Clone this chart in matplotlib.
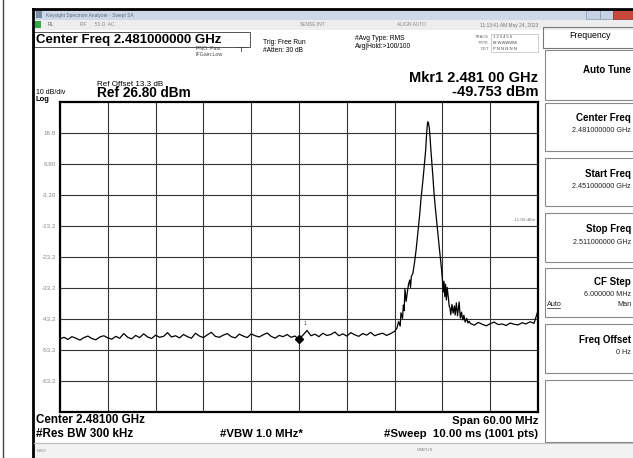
import matplotlib
matplotlib.use("Agg")
import matplotlib.pyplot as plt
import numpy as np
from matplotlib.patches import Rectangle
from matplotlib.lines import Line2D

W, H = 633, 458
plt.rcParams["font.family"] = ["Liberation Sans", "DejaVu Sans"]

# sweep settings
start_mhz, stop_mhz = 2451.0, 2511.0
ref_dbm, db_per_div = 26.80, 10.0

# trace: noise floor left of the carrier (0.5 MHz steps from 2451 MHz)
floor_left_mhz = np.arange(2451.0, 2493.01, 0.5)
floor_left_dbm = [
    -49.6, -49.1, -49.8, -48.9, -49.4, -50.0, -49.2, -48.7, -49.5, -49.9,
    -49.0, -48.6, -49.3, -49.7, -48.8, -49.4, -47.9, -49.1, -49.6, -48.5,
    -49.2, -48.0, -49.0, -49.5, -48.4, -49.1, -48.8, -47.6, -49.0, -48.6,
    -49.3, -48.2, -48.9, -49.4, -47.8, -48.7, -49.2, -48.3, -47.5, -48.8,
    -49.1, -48.4, -47.9, -48.9, -49.3, -48.1, -48.7, -49.2, -48.0, -48.6,
    -49.0, -48.3, -47.7, -48.8, -49.4, -48.5, -48.9, -48.2, -49.1, -48.7,
    -49.75, -48.4, -46.9, -48.6, -48.1, -48.9, -47.8, -48.5, -48.2, -47.4,
    -48.6, -48.0, -48.7, -47.6, -48.3, -48.8, -47.9, -48.4, -47.5, -48.6,
    -48.1, -47.8, -48.5, -47.9, -47.2,
]

# carrier and its skirts
skirt_mhz = [
    2493.3, 2493.5, 2493.7, 2493.8, 2494.0, 2494.1, 2494.2, 2494.3, 2494.45,
    2494.6, 2494.75, 2494.9, 2495.0, 2495.1, 2495.3, 2495.5, 2495.7, 2495.85,
    2496.0, 2496.15, 2496.3, 2496.45, 2496.6, 2496.75, 2496.9, 2497.05,
    2497.15, 2497.25, 2497.35, 2497.45, 2497.55, 2497.65, 2497.8, 2497.95,
    2498.1, 2498.3, 2498.45, 2498.6, 2498.75, 2498.9, 2499.0, 2499.1, 2499.2,
    2499.3, 2499.4, 2499.5, 2499.6, 2499.75, 2499.85, 2499.95, 2500.05,
    2500.2, 2500.35, 2500.5, 2500.6, 2500.75, 2500.9, 2501.0, 2501.1,
    2501.25, 2501.4, 2501.55, 2501.7, 2501.85, 2502.05, 2502.2, 2502.35,
]
skirt_dbm = [
    -46.1, -44.0, -45.5, -41.2, -43.0, -38.7, -40.5, -33.5, -37.5,
    -34.5, -32.0, -30.6, -33.0, -29.5, -28.4, -25.0, -20.9, -17.0,
    -13.4, -9.5, -4.8, -1.0, 2.7, 7.0, 11.3, 17.8,
    20.4, 20.0, 18.5, 15.5, 11.5, 8.1, 3.0, -2.6,
    -7.0, -12.2, -16.0, -19.9, -23.5, -27.4, -30.6, -34.5, -31.0,
    -36.0, -32.0, -37.1, -33.0, -36.4, -39.0, -39.7, -41.8,
    -38.5, -41.3, -39.0, -41.9, -38.0, -42.2, -40.0, -37.7,
    -42.9, -41.0, -43.5, -42.0, -44.2, -43.0, -44.5, -43.9,
]

# noise floor right of the carrier
floor_right_mhz = np.arange(2502.5, 2511.01, 0.5)
floor_right_dbm = [
    -44.6, -45.2, -44.3, -44.9, -45.4, -44.7, -44.2, -45.0, -44.8,
    -45.3, -44.5, -44.9, -45.1, -44.4, -44.8, -44.1, -44.6, -40.5,
]

marker_mhz, marker_dbm = 2481.0, -49.753
display_line_dbm = -11.0
y_tick_labels = ["16.8", "6.80", "-3.20", "-13.2", "-23.2", "-33.2", "-43.2", "-53.2", "-63.2"]


def fx(x):
    return x / W


def fy(y):
    return 1 - y / H


def box(fig, x0, y0, x1, y1, **kw):
    kw.setdefault("fc", "none")
    kw.setdefault("ec", "none")
    fig.add_artist(Rectangle((fx(x0), fy(y1)), (x1 - x0) / W, (y1 - y0) / H,
                             transform=fig.transFigure, **kw))


def line(fig, x0, y0, x1, y1, **kw):
    fig.add_artist(Line2D([fx(x0), fx(x1)], [fy(y0), fy(y1)],
                          transform=fig.transFigure, **kw))


def txt(fig, x, y, s, **kw):
    kw.setdefault("va", "center")
    fig.text(fx(x), fy(y), s, **kw)


fig = plt.figure(figsize=(W / 100, H / 100), dpi=100)
fig.patch.set_facecolor("white")

# ---- window chrome ----
line(fig, 3, 0, 3, 458, color="#444444", lw=1)
box(fig, 34, 10, 633, 20, fc="#cdd9e8")
txt(fig, 46, 15, "Keysight Spectrum Analyzer - Swept SA", size=3.5, color="#5a6a80")
box(fig, 36, 11, 42, 18, fc="#7a8aa0")
box(fig, 586, 10, 600, 19, fc="#c4d2e4", ec="#8899aa", lw=0.5)
box(fig, 600, 10, 613, 19, fc="#c4d2e4", ec="#8899aa", lw=0.5)
box(fig, 613, 10, 633, 19, fc="#c9483c", ec="#8a2f27", lw=0.5)
box(fig, 34, 20, 633, 30, fc="#ededed")
box(fig, 35, 21, 41, 28, fc="#35a843")
txt(fig, 48, 25, "RL", size=3.5, color="#666666")
txt(fig, 80, 25, "RF      50 \u03a9  AC", size=3.5, color="#888888")
txt(fig, 300, 25, "SENSE:INT", size=3.5, color="#888888")
txt(fig, 397, 25, "ALIGN AUTO", size=3.5, color="#888888")
txt(fig, 538, 25, "11:13:41 AM May 24, 2023", size=3.5, color="#777777", ha="right")
line(fig, 33, 9, 633, 9, color="black", lw=2)
line(fig, 33, 9, 33, 458, color="black", lw=2)

# header texts
box(fig, 34, 32, 250, 47, ec="#555555", lw=0.7)
txt(fig, 36, 40, "Center Freq 2.481000000 GHz", size=9.5, weight="bold")
txt(fig, 196, 49, "PNO: Fast", size=3.8, color="#444444")
txt(fig, 195, 54, "IFGain:Low", size=3.8, color="#444444")
line(fig, 236, 47, 246, 47, color="#444444", lw=0.6)
line(fig, 241, 47, 241, 51, color="#444444", lw=0.6)
txt(fig, 263, 42, "Trig: Free Run", size=4.8)
txt(fig, 263, 51, "#Atten: 30 dB", size=4.8)
txt(fig, 355, 38, "#Avg Type: RMS", size=4.8)
txt(fig, 355, 47, "Avg|Hold:>100/100", size=4.8)
txt(fig, 489, 37, "TRACE", size=3, color="#666666", ha="right")
txt(fig, 489, 43, "TYPE", size=3, color="#666666", ha="right")
txt(fig, 489, 49, "DET", size=3, color="#666666", ha="right")
box(fig, 491, 34, 538, 52, ec="#aaaaaa", lw=0.4)
txt(fig, 493, 37, "1 2 3 4 5 6", size=3, color="#444444")
txt(fig, 493, 43, "M WWWWW", size=3, color="#444444")
txt(fig, 493, 49, "P N N N N N", size=3, color="#444444")
txt(fig, 97, 84, "Ref Offset 13.3 dB", size=5.8)
txt(fig, 97, 93, "Ref 26.80 dBm", size=9.8, weight="bold")
txt(fig, 36, 92, "10 dB/div", size=5.0)
txt(fig, 36, 99.5, "Log", size=5.5, weight="bold")
txt(fig, 538, 78, "Mkr1 2.481 00 GHz", size=10.5, weight="bold", ha="right")
txt(fig, 538, 92, "-49.753 dBm", size=10.5, weight="bold", ha="right")

# ---- trace area ----
ax = fig.add_axes([fx(60), fy(412), 478 / W, 310 / H])
freq = np.concatenate([floor_left_mhz, skirt_mhz, floor_right_mhz])
level = np.concatenate([floor_left_dbm, skirt_dbm, floor_right_dbm])
ax.plot(freq, level, color="black", lw=0.9, zorder=3)
ax.plot(marker_mhz, marker_dbm, marker="D", ms=4.5, color="black", zorder=4)
ax.text(marker_mhz + 0.6, marker_dbm + 4.5, "1", size=3.5, color="#333333")
ax.text(stop_mhz - 0.4, display_line_dbm - 0.8, "-11.00 dBm", size=3.2,
        color="#777777", ha="right", va="bottom")

ax.set_xlim(start_mhz, stop_mhz)
ax.set_ylim(ref_dbm - 10 * db_per_div, ref_dbm)
ax.set_xticks(np.linspace(start_mhz, stop_mhz, 11))
ax.set_xticklabels([])
ax.set_yticks(ref_dbm - db_per_div * np.arange(1, 10), y_tick_labels)
ax.tick_params(length=0, labelsize=4.5, labelcolor="#888888", pad=3)
ax.grid(True, color="#333333", lw=0.8)
for s in ax.spines.values():
    s.set_linewidth(1.6)

# footer
txt(fig, 36, 420, "Center 2.48100 GHz", size=8.4, weight="bold")
txt(fig, 36, 434, "#Res BW 300 kHz", size=8.4, weight="bold")
txt(fig, 220, 434, "#VBW 1.0 MHz*", size=8.2, weight="bold")
txt(fig, 538, 421, "Span 60.00 MHz", size=8.2, weight="bold", ha="right")
txt(fig, 538, 434, "#Sweep  10.00 ms (1001 pts)", size=8.2, weight="bold", ha="right")
box(fig, 34, 443, 633, 458, fc="#f2f2f2")
line(fig, 34, 443, 633, 443, color="#bbbbbb", lw=0.8)
txt(fig, 37, 451, "MSG", size=3.2, color="#888888")
txt(fig, 417, 450, "STATUS", size=3.2, color="#888888")

# ---- softkey panel ----
box(fig, 543, 27, 636, 48, ec="#777777", lw=0.8)
txt(fig, 590, 36, "Frequency", size=6.3, ha="center")
keys = [
    (50, 100, "Auto Tune", 70, []),
    (103, 151, "Center Freq", 118, ["2.481000000 GHz"]),
    (158, 206, "Start Freq", 174, ["2.451000000 GHz"]),
    (213, 262, "Stop Freq", 229, ["2.511000000 GHz"]),
    (268, 317, "CF Step", 282, ["6.000000 MHz"]),
    (324, 373, "Freq Offset", 340, ["0 Hz"]),
    (380, 442, "", 0, []),
]
for top, bot, label, ly, values in keys:
    box(fig, 545, top, 636, bot, fc="white", ec="#888888", lw=0.8)
    if label:
        txt(fig, 631, ly, label, size=7, weight="bold", ha="right")
    for k, v in enumerate(values):
        txt(fig, 631, ly + 13 + 10 * k, v, size=5.2, ha="right", color="#222222")
txt(fig, 631, 304, "Man", size=5.2, ha="right", color="#222222")
txt(fig, 547, 304, "Auto", size=5.2, color="#222222")
line(fig, 547, 308, 560, 308, color="#222222", lw=0.5)

fig.savefig("out.png", dpi=100)
